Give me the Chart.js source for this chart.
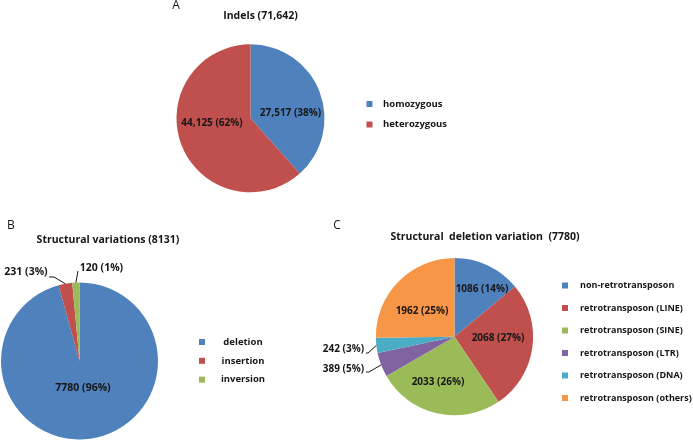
<!DOCTYPE html>
<html>
<head>
<meta charset="utf-8">
<script src="https://cdn.jsdelivr.net/npm/chart.js@4.4.0/dist/chart.umd.min.js"></script>
<style>
  html, body { margin: 0; padding: 0; background: #ffffff; }
  body { width: 693px; height: 441px; position: relative; overflow: hidden; }
  canvas { position: absolute; }
</style>
</head>
<body>
<canvas id="cA" width="693" height="220" style="left:0px;top:0px"></canvas>
<canvas id="cB" width="320" height="221" style="left:0px;top:220px"></canvas>
<canvas id="cC" width="373" height="221" style="left:320px;top:220px"></canvas>
<script>
// ---- data ----
const indelTitle = 'Indels (71,642)';
const indelLabels = ['homozygous', 'heterozygous'];
const indelValues = [27517, 44125];

const svTitle = 'Structural variations (8131)';
const svLabels = ['deletion', 'insertion', 'inversion'];
const svValues = [7780, 231, 120];

const delTitle = 'Structural  deletion variation  (7780)';
const delLabels = ['non-retrotransposon', 'retrotransposon (LINE)', 'retrotransposon (SINE)',
                   'retrotransposon (LTR)', 'retrotransposon (DNA)', 'retrotransposon (others)'];
const delValues = [1086, 2068, 2033, 389, 242, 1962];

const panelLetters = ['A', 'B', 'C'];

const PAL = ['#4F81BD', '#C0504D', '#9BBB59', '#8064A2', '#4BACC6', '#F79646'];
const FONT = '"Open Sans", "Noto Sans", sans-serif';
const INK = '#161616';
const WEIGHT = '700';

const decorPlugin = {
  id: 'decor',
  afterDraw(chart, args, o) {
    const ctx = chart.ctx;
    const meta = chart.getDatasetMeta(0);
    const vals = chart.data.datasets[0].data;
    const labels = chart.data.labels;
    const sum = vals.reduce((a, b) => a + b, 0);
    ctx.save();
    ctx.fillStyle = INK;
    ctx.strokeStyle = INK;
    // panel letter
    ctx.font = '400 12px ' + FONT;
    ctx.textAlign = 'center';
    ctx.textBaseline = 'middle';
    ctx.fillText(o.letter.text, o.letter.x, o.letter.y);
    // title
    ctx.font = WEIGHT + ' 10.5px ' + FONT;
    ctx.fillText(o.title.text, o.title.x, o.title.y);
    // legend
    ctx.font = WEIGHT + ' ' + o.legend.size + 'px ' + FONT;
    ctx.textAlign = o.legend.align;
    labels.forEach((lab, i) => {
      const y = o.legend.y0 + i * o.legend.dy;
      ctx.fillStyle = PAL[i];
      ctx.fillRect(o.legend.boxX - 3, y - 3, 6, 6);
      ctx.fillStyle = INK;
      ctx.fillText(lab, o.legend.textX, y);
    });
    // slice labels
    ctx.font = WEIGHT + ' ' + o.labelSize + 'px ' + FONT;
    ctx.textAlign = 'center';
    meta.data.forEach((arc, i) => {
      const v = vals[i];
      const num = o.comma ? v.toLocaleString('en-US') : String(v);
      const txt = num + ' (' + Math.round(v / sum * 100) + '%)';
      const p = o.labels[i];
      ctx.fillText(txt, arc.x + p[0], arc.y + p[1]);
    });
    // leader lines
    ctx.lineWidth = 1;
    (o.leaders || []).forEach(ld => {
      const arc = meta.data[ld.i];
      const mid = (arc.startAngle + arc.endAngle) / 2;
      ctx.beginPath();
      ld.pts.forEach((pt, k) => {
        if (k === 0) ctx.moveTo(arc.x + pt[0], arc.y + pt[1]);
        else ctx.lineTo(arc.x + pt[0], arc.y + pt[1]);
      });
      ctx.lineTo(arc.x + Math.cos(mid) * arc.outerRadius, arc.y + Math.sin(mid) * arc.outerRadius);
      ctx.stroke();
    });
    ctx.restore();
  }
};

function makePie(id, labels, values, padding, decor) {
  return new Chart(document.getElementById(id), {
    type: 'pie',
    data: {
      labels: labels,
      datasets: [{
        data: values,
        backgroundColor: PAL.slice(0, values.length),
        borderWidth: 0
      }]
    },
    options: {
      responsive: false,
      animation: false,
      devicePixelRatio: 1,
      layout: { padding: padding },
      plugins: {
        legend: { display: false },
        tooltip: { enabled: false },
        title: { display: false },
        decor: decor
      }
    },
    plugins: [decorPlugin]
  });
}

makePie('cA', indelLabels, indelValues,
  { left: 176.5, top: 44.3, right: 368.5, bottom: 27.7 },
  {
    letter: { text: panelLetters[0], x: 176, y: 6 },
    title: { text: indelTitle, x: 260.5, y: 16 },
    legend: { size: 9.5, align: 'left', boxX: 369.5, textX: 383, y0: 104, dy: 20.5 },
    labelSize: 10,
    comma: true,
    labels: [[40, -5.3], [-38.5, 4.4]]
  });

makePie('cB', svLabels, svValues,
  { left: 1, top: 62.5, right: 162, bottom: 1.5 },
  {
    letter: { text: panelLetters[1], x: 11, y: 6 },
    title: { text: svTitle, x: 108, y: 20 },
    legend: { size: 9.5, align: 'center', boxX: 202, textX: 243, y0: 122, dy: 18.8 },
    labelSize: 10.5,
    comma: false,
    labels: [[3.5, 27.3], [-53.5, -88.5], [22, -93]],
    leaders: [
      { i: 1, pts: [[-30.5, -84], [-25.5, -84]] },
      { i: 2, pts: [[-1.5, -90]] }
    ]
  });

makePie('cC', delLabels, delValues,
  { left: 55.9, top: 38.1, right: 159.9, bottom: 25.7 },
  {
    letter: { text: panelLetters[2], x: 17, y: 6 },
    title: { text: delTitle, x: 165, y: 17 },
    legend: { size: 9, align: 'left', boxX: 245, textX: 260, y0: 65.5, dy: 22.5 },
    labelSize: 10,
    comma: false,
    labels: [[27.5, -47.7], [43.5, 1.6], [-16.5, 45.6], [-111, 32.3], [-111, 12.3], [-32.5, -26]],
    leaders: [
      { i: 4, pts: [[-88.5, 16.3], [-86.5, 16.3]] },
      { i: 3, pts: [[-88.5, 35.3], [-85.5, 35.3]] }
    ]
  });
</script>
</body>
</html>
